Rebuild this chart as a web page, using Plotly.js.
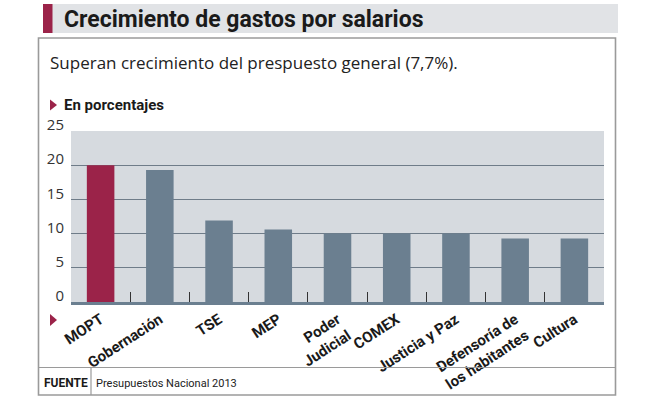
<!DOCTYPE html>
<html>
<head>
<meta charset="utf-8">
<script src="https://cdn.plot.ly/plotly-3.0.1.min.js"></script>
<style>
html,body{margin:0;padding:0;background:#fff;}
#chart{width:653px;height:398px;}
</style>
</head>
<body>
<div id="chart"></div>
<script>
// ---- data ----
var categories = ["MOPT", "Gobernación", "TSE", "MEP", "Poder<br>Judicial", "COMEX", "Justicia y Paz", "Defensoría de<br>los habitantes", "Cultura"];
var values = [20.0, 19.3, 11.9, 10.6, 10.0, 10.0, 10.0, 9.3, 9.3];
var yTicks = [0, 5, 10, 15, 20, 25];
var titleText = "Crecimiento de gastos por salarios";
var subtitleText = "Superan crecimiento del prespuesto general (7,7%).";
var unitText = "En porcentajes";
var sourceLabel = "FUENTE";
var sourceText = "Presupuestos Nacional 2013";

// ---- layout geometry ----
var W = 653, H = 398;
var L = 71, R = 604, T = 131, B = 302;
var pw = R - L, ph = B - T;
function px(x){ return (x - L) / pw; }
function py(y){ return (B - y) / ph; }

var CRIMSON = "#9b2349", SLATE = "#6b7f90", PLOTBG = "#d6dadf", GRID = "#6f7c89";
var cond = "Roboto,'DejaVu Sans',sans-serif";
var reg = "'Open Sans','Noto Sans',sans-serif";

var barColors = categories.map(function(c, i){ return i === 0 ? CRIMSON : SLATE; });

var trace = {
  type: "bar",
  x: categories,
  y: values,
  marker: {color: barColors, line: {width: 0}},
  hoverinfo: "skip"
};

var shapes = [
  {type:"rect", xref:"paper", yref:"paper", x0:px(52), x1:px(618), y0:py(33), y1:py(4), fillcolor:"#e1e3e6", line:{width:0}, layer:"below"},
  {type:"rect", xref:"paper", yref:"paper", x0:px(43), x1:px(52.5), y0:py(33), y1:py(4), fillcolor:CRIMSON, line:{width:0}, layer:"below"},
  {type:"rect", xref:"paper", yref:"paper", x0:px(38.5), x1:px(615.5), y0:py(395), y1:py(38), fillcolor:"rgba(0,0,0,0)", line:{color:"#9a9a9a", width:1.6}},
  {type:"line", xref:"paper", yref:"paper", x0:px(38.5), x1:px(615.5), y0:py(367.5), y1:py(367.5), line:{color:"#9a9a9a", width:1.2}},
  {type:"line", xref:"paper", yref:"paper", x0:px(91), x1:px(91), y0:py(367.5), y1:py(395), line:{color:"#9a9a9a", width:1.2}},
  {type:"path", xref:"paper", yref:"paper", path:"M "+px(50)+" "+py(99.5)+" L "+px(57)+" "+py(105)+" L "+px(50)+" "+py(110.5)+" Z", fillcolor:CRIMSON, line:{width:0}},
  {type:"path", xref:"paper", yref:"paper", path:"M "+px(50)+" "+py(314)+" L "+px(57)+" "+py(320)+" L "+px(50)+" "+py(326)+" Z", fillcolor:CRIMSON, line:{width:0}}
];

var annotations = [
  {xref:"paper", yref:"paper", x:px(62), y:py(19), xanchor:"left", yanchor:"middle", showarrow:false, text:"<b>"+titleText+"</b>", font:{family:cond, size:23, color:"#1a1a1a"}},
  {xref:"paper", yref:"paper", x:px(48), y:py(62), xanchor:"left", yanchor:"middle", showarrow:false, text:subtitleText, font:{family:reg, size:17, color:"#222"}},
  {xref:"paper", yref:"paper", x:px(62), y:py(105), xanchor:"left", yanchor:"middle", showarrow:false, text:"<b>"+unitText+"</b>", font:{family:cond, size:15, color:"#1a1a1a"}},
  {xref:"paper", yref:"paper", x:px(42), y:py(383), xanchor:"left", yanchor:"middle", showarrow:false, text:"<b>"+sourceLabel+"</b>", font:{family:cond, size:12, color:"#1a1a1a"}},
  {xref:"paper", yref:"paper", x:px(94), y:py(383), xanchor:"left", yanchor:"middle", showarrow:false, text:sourceText, font:{family:cond, size:11, color:"#222"}}
];

var layout = {
  width: W, height: H,
  margin: {l: L, r: W - R, t: T, b: H - B, pad: 0},
  paper_bgcolor: "#fff",
  plot_bgcolor: PLOTBG,
  showlegend: false,
  bargap: 0.535,
  xaxis: {
    type: "category",
    tickangle: -33,
    tickfont: {family: cond, size: 15, color: "#1a1a1a", weight: "bold"},
    ticks: "inside", tickson: "boundaries", ticklen: 10, tickwidth: 1, tickcolor: "#333",
    showgrid: false, zeroline: false,
    showline: true, linecolor: SLATE, linewidth: 3,
    fixedrange: true
  },
  yaxis: {
    range: [0, 25],
    tickvals: yTicks,
    ticktext: yTicks.map(String),
    ticks: "",
    ticklabelposition: "outside",
    ticklabelshift: -6,
    ticklabelstandoff: 6,
    tickfont: {family: reg, size: 15, color: "#333"},
    showgrid: true, gridcolor: GRID, gridwidth: 1.3,
    zeroline: false, showline: false,
    fixedrange: true
  },
  shapes: shapes,
  annotations: annotations
};

Plotly.newPlot("chart", [trace], layout, {displayModeBar: false, staticPlot: true});
</script>
</body>
</html>
